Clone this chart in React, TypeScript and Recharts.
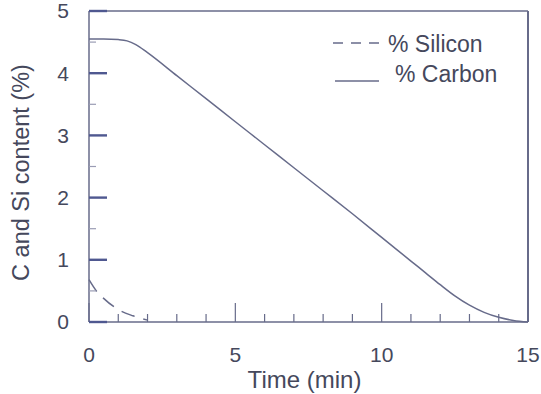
import React from 'react';
import { LineChart, Line, XAxis, YAxis, ReferenceLine, Legend, Label } from 'recharts';

// values
const carbonTime = [0, 0.5, 1, 1.3, 1.6, 2, 3, 4, 5, 6, 7, 8, 9, 10, 11, 11.5, 12, 12.5, 13, 13.5, 14, 14.5, 15];
const carbonPct = [4.55, 4.55, 4.54, 4.52, 4.46, 4.33, 3.96, 3.59, 3.22, 2.85, 2.48, 2.11, 1.74, 1.36, 0.98, 0.79, 0.6, 0.42, 0.27, 0.155, 0.075, 0.025, 0.0];
const siliconTime = [0, 0.25, 0.5, 1, 1.5, 2];
const siliconPct = [0.68, 0.5, 0.38, 0.2, 0.1, 0.03];

const xTicks = [0, 1, 2, 3, 4, 5, 6, 7, 8, 9, 10, 11, 12, 13, 14, 15];
const yTicks = [0, 0.5, 1, 1.5, 2, 2.5, 3, 3.5, 4, 4.5, 5];

const carbonData = carbonTime.map((t, i) => ({ t, carbon: carbonPct[i] }));
const siliconData = siliconTime.map((t, i) => ({ t, silicon: siliconPct[i] }));

const ink = '#676b8a';
const tickInk = '#4f5890';
const textInk = '#45485c';
const font = '"Liberation Sans", Arial, sans-serif';

const YTick = (props: any) => {
  const { x, y, payload } = props;
  const v = Number(payload.value);
  const major = Math.abs(v - Math.round(v)) < 1e-6;
  const len = major ? 18 : 7;
  return (
    <g>
      <path
        d={`M${x},${y}h${len}`}
        stroke={major ? tickInk : '#9a9cb4'}
        strokeWidth={major ? 2.4 : 1.2}
        fill="none"
      />
      {major && (
        <text x={x - 20} y={y} dy="0.355em" textAnchor="end" fontSize={21} fontFamily={font} fill={textInk}>
          {Math.round(v)}
        </text>
      )}
    </g>
  );
};

const XTick = (props: any) => {
  const { x, y, payload } = props;
  const v = payload.value;
  const major = v % 5 === 0;
  return (
    <g>
      <line x1={x} x2={x} y1={y} y2={y - (major ? 19 : 8)} stroke={ink} strokeWidth={1.2} />
      {major && (
        <text x={x} y={y + 25} dy="0.71em" textAnchor="middle" fontSize={21} fontFamily={font} fill={textInk}>
          {v}
        </text>
      )}
    </g>
  );
};

const LegendBox = () => (
  <svg width={190} height={70}>
    <line x1={8} x2={58} y1={18} y2={18} stroke={ink} strokeWidth={1.3} strokeDasharray="10 8" />
    <text x={63} y={27} fontSize={23} fontFamily={font} fill={textInk}>% Silicon</text>
    <line x1={10} x2={54} y1={56} y2={56} stroke={ink} strokeWidth={1.3} />
    <text x={70} y={57} fontSize={23} fontFamily={font} fill={textInk}>% Carbon</text>
  </svg>
);

export default function App() {
  return (
    <div style={{ width: 541, height: 394, background: '#fff' }}>
      <style>{'body{margin:0}'}</style>
      <LineChart width={541} height={394} margin={{ top: 11, right: 13, bottom: 0, left: 0 }}>
        <XAxis
          dataKey="t"
          type="number"
          domain={[0, 15]}
          ticks={xTicks}
          interval={0}
          height={72}
          tickSize={0}
          tickMargin={0}
          tickLine={false}
          tick={XTick}
          axisLine={{ stroke: ink, strokeWidth: 1.5 }}
        >
          <Label
            content={(p: any) => (
              <text
                x={p.viewBox.x + p.viewBox.width / 2 - 4}
                y={p.viewBox.y + 66}
                textAnchor="middle"
                fontSize={24}
                fontFamily={font}
                fill={textInk}
              >
                Time (min)
              </text>
            )}
          />
        </XAxis>
        <YAxis
          type="number"
          domain={[0, 5]}
          ticks={yTicks}
          interval={0}
          width={89}
          tickSize={0}
          tickMargin={0}
          tickLine={false}
          tick={YTick}
          axisLine={{ stroke: ink, strokeWidth: 1.5 }}
        >
          <Label
            content={(p: any) => {
              const cx = p.viewBox.x + 21;
              const cy = p.viewBox.y + p.viewBox.height / 2 + 6;
              return (
                <text
                  x={cx}
                  y={cy}
                  transform={`rotate(-90, ${cx}, ${cy})`}
                  textAnchor="middle"
                  dominantBaseline="central"
                  fontSize={23.5}
                  fontFamily={font}
                  fill={textInk}
                >
                  C and Si content (%)
                </text>
              );
            }}
          />
        </YAxis>
        <ReferenceLine y={5} stroke={ink} strokeWidth={1.5} />
        <ReferenceLine x={15} stroke={ink} strokeWidth={2} />
        <Legend
          layout="horizontal"
          verticalAlign="middle"
          align="center"
          content={LegendBox}
          wrapperStyle={{ left: 325, top: 25, width: 190, height: 70 }}
        />
        <Line
          data={carbonData}
          dataKey="carbon"
          type="monotone"
          stroke={ink}
          strokeWidth={1.5}
          dot={false}
          isAnimationActive={false}
        />
        <Line
          data={siliconData}
          dataKey="silicon"
          type="monotone"
          stroke={ink}
          strokeWidth={1.5}
          strokeDasharray="14 9"
          dot={false}
          isAnimationActive={false}
        />
      </LineChart>
    </div>
  );
}
